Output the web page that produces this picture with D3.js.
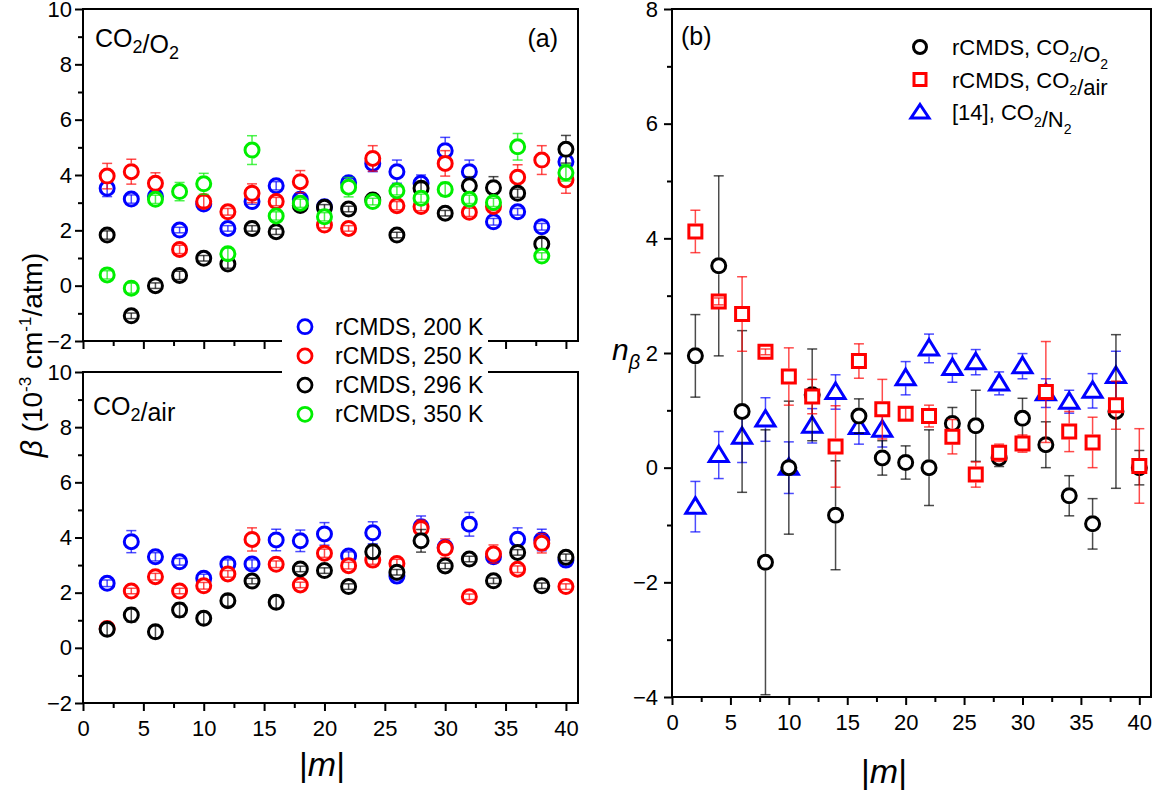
<!DOCTYPE html>
<html>
<head>
<meta charset="utf-8">
<script src="https://cdn.jsdelivr.net/npm/d3@7"></script>
<style>
body { margin: 0; background: #fff; }
svg text { font-family: "Liberation Sans", Arial, sans-serif; fill: #000; }
</style>
</head>
<body>
<svg id="drawing_region" width="1161" height="792"></svg>
<script>
// |m| values
const mValues = [2,4,6,8,10,12,14,16,18,20,22,24,26,28,30,32,34,36,38,40];
const mN2 = [2,4,6,8,10,12,14,16,18,20,22,24,26,28,30,32,34,36,38];

// (a) top panel, CO2/O2, beta in 1e-3 cm-1/atm
const o2_200K     = [3.52,3.13,3.22,2.01,2.95,2.07,3.04,3.61,3.12,2.85,3.72,4.42,4.12,3.70,4.88,4.12,2.31,2.67,2.13,4.48];
const o2_200K_err = [0.30,0.15,0.12,0.10,0.12,0.10,0.10,0.15,0.12,0.10,0.15,0.30,0.42,0.30,0.48,0.42,0.12,0.12,0.12,0.25];
const o2_250K     = [3.96,4.12,3.70,1.31,3.04,2.67,3.34,3.04,3.76,2.19,2.07,4.60,2.89,2.86,4.42,2.65,2.86,3.92,4.54,3.82];
const o2_250K_err = [0.46,0.45,0.38,0.15,0.20,0.12,0.34,0.15,0.40,0.10,0.10,0.46,0.15,0.15,0.46,0.15,0.15,0.45,0.52,0.48];
const o2_296K     = [1.83,-1.09,0.00,0.37,0.99,0.78,2.07,1.95,2.90,2.83,2.77,3.10,1.83,3.52,2.62,3.61,3.54,3.34,1.51,4.93];
const o2_296K_err = [0.15,0.10,0.10,0.15,0.10,0.15,0.10,0.10,0.15,0.10,0.10,0.15,0.10,0.20,0.10,0.33,0.40,0.15,0.20,0.50];
const o2_350K     = [0.39,-0.09,3.12,3.40,3.68,1.15,4.90,2.52,2.98,2.49,3.56,3.04,3.43,3.16,3.48,3.12,3.01,5.02,1.07,4.08];
const o2_350K_err = [0.15,0.18,0.15,0.33,0.38,0.20,0.52,0.15,0.15,0.15,0.35,0.12,0.15,0.15,0.25,0.15,0.15,0.48,0.12,0.30];

// (a) bottom panel, CO2/air
const air_200K     = [2.34,3.85,3.30,3.12,2.52,3.04,3.04,3.91,3.88,4.13,3.33,4.17,2.60,4.39,3.65,4.48,3.30,3.94,3.91,3.18];
const air_200K_err = [0.12,0.40,0.15,0.12,0.15,0.15,0.15,0.39,0.39,0.41,0.15,0.40,0.15,0.39,0.15,0.43,0.15,0.41,0.39,0.15];
const air_250K     = [0.70,2.06,2.58,2.06,2.25,2.68,3.93,3.03,2.28,3.43,2.98,3.18,3.06,4.33,3.61,1.85,3.40,2.85,3.79,2.22];
const air_250K_err = [0.15,0.10,0.12,0.10,0.12,0.12,0.42,0.12,0.10,0.15,0.12,0.15,0.15,0.30,0.34,0.10,0.33,0.12,0.35,0.10];
const air_296K     = [0.67,1.19,0.58,1.37,1.07,1.71,2.42,1.65,2.86,2.80,2.22,3.48,2.74,3.88,2.97,3.22,2.43,3.46,2.25,3.28];
const air_296K_err = [0.22,0.25,0.22,0.25,0.22,0.20,0.10,0.22,0.10,0.10,0.10,0.25,0.10,0.41,0.10,0.10,0.10,0.10,0.10,0.12];

// (b) temperature exponent n_beta
const nO2      = [1.95,3.52,0.98,-1.65,0.00,1.27,-0.83,0.90,0.17,0.09,0.00,0.77,0.73,0.17,0.86,0.40,-0.49,-0.98,0.98,0.00];
const nO2_err  = [0.72,1.57,1.41,2.31,1.16,0.80,0.95,0.30,0.30,0.29,0.66,0.28,0.62,0.15,0.35,0.40,0.35,0.44,1.34,0.30];
const nAir     = [4.12,2.90,2.68,2.02,1.59,1.24,0.37,1.86,1.02,0.94,0.90,0.54,-0.12,0.26,0.42,1.32,0.63,0.44,1.09,0.03];
const nAir_err = [0.37,0.06,0.65,0.05,0.50,0.30,0.71,0.30,0.52,0.10,0.19,0.30,0.22,0.15,0.15,0.88,0.35,0.44,0.42,0.65];
const nN2      = [-0.68,0.22,0.54,0.84,0.00,0.73,1.32,0.71,0.66,1.56,2.08,1.74,1.84,1.47,1.77,1.30,1.15,1.34,1.60];
const nN2_err  = [0.44,0.41,0.45,0.38,0.45,0.30,0.30,0.30,0.30,0.29,0.25,0.25,0.22,0.20,0.22,0.25,0.20,0.30,0.43];

const leftTicks = [-2,0,2,4,6,8,10];
const rightTicks = [-4,-2,0,2,4,6,8];
const xTicks = [0,5,10,15,20,25,30,35,40];

const BLUE = '#0000ff', RED = '#ff0000', BLACK = '#000000', GREEN = '#00ee00';

const svg = d3.select('#drawing_region');

// scales
const xLeft = d3.scaleLinear().domain([0, 41]).range([83, 578]);
const yTop = d3.scaleLinear().domain([-2, 10]).range([341, 9]);
const yBot = d3.scaleLinear().domain([-2, 10]).range([703, 372]);
const xRight = d3.scaleLinear().domain([0, 41]).range([672, 1151]);
const yRight = d3.scaleLinear().domain([-4, 8]).range([697, 9]);

function drawAxes(xs, ys, yTickVals, showXLabels, yPad) {
    const g = svg.append('g');
    const x0 = ys.range()[0];
    const xl = xs.range()[0];
    // minor ticks
    g.append('g').attr('transform', `translate(0,${x0})`)
        .call(d3.axisBottom(xs).tickValues(d3.range(2.5, 41, 5)).tickSize(5).tickFormat(''));
    g.append('g').attr('transform', `translate(0,${x0})`)
        .call(d3.axisBottom(xs).tickValues(xTicks).tickSize(8).tickPadding(9)
            .tickFormat(showXLabels ? d3.format('d') : ''));
    const yd = ys.domain();
    g.append('g').attr('transform', `translate(${xl},0)`)
        .call(d3.axisLeft(ys).tickValues(d3.range(yd[0] + 1, yd[1], 2)).tickSize(5).tickFormat(''));
    g.append('g').attr('transform', `translate(${xl},0)`)
        .call(d3.axisLeft(ys).tickValues(yTickVals).tickSize(8).tickPadding(yPad));
    g.selectAll('.domain').remove();
    g.selectAll('.tick line').attr('stroke', '#000').attr('stroke-width', 2);
    g.selectAll('.tick text').style('font-size', '22px').attr('fill', '#000');
    // frame
    svg.append('rect')
        .attr('x', xs.range()[0]).attr('y', ys.range()[1])
        .attr('width', xs.range()[1] - xs.range()[0])
        .attr('height', ys.range()[0] - ys.range()[1])
        .attr('fill', 'none').attr('stroke', '#000').attr('stroke-width', 2);
}

function markerPath(shape) {
    if (shape === 'square') return 'M-6.5,-6.5H6.5V6.5H-6.5Z';
    if (shape === 'triangle') return 'M0,-9L9.5,6.5H-9.5Z';
    return d3.arc()({innerRadius: 0, outerRadius: 7, startAngle: 0, endAngle: 2 * Math.PI});
}

function drawSeries(xs, ys, xv, yv, ev, color, shape, r) {
    const g = svg.append('g');
    const pts = xv.map((m, i) => ({m: m, v: yv[i], e: ev[i]}));
    // marker (white fill)
    g.selectAll('path.mk').data(pts).enter().append('path')
        .attr('class', 'mk')
        .attr('transform', d => `translate(${xs(d.m)},${ys(d.v)})`)
        .attr('d', markerPath(shape))
        .attr('fill', '#fff').attr('stroke', color).attr('stroke-width', 3);
    // error bars, drawn outside the symbol
    const eg = g.append('g').attr('stroke', color).attr('stroke-width', 1.5).attr('stroke-opacity', 0.7);
    pts.forEach(d => {
        const cx = xs(d.m), cy = ys(d.v);
        const t = ys(d.v + d.e), b = ys(d.v - d.e);
        if (cy - t > r) {
            eg.append('line').attr('x1', cx).attr('x2', cx).attr('y1', t).attr('y2', cy - r);
            eg.append('line').attr('x1', cx).attr('x2', cx).attr('y1', cy + r).attr('y2', b);
        } else {
            eg.append('line').attr('x1', cx).attr('x2', cx).attr('y1', t).attr('y2', b);
        }
        eg.append('line').attr('x1', cx - 5).attr('x2', cx + 5).attr('y1', t).attr('y2', t);
        eg.append('line').attr('x1', cx - 5).attr('x2', cx + 5).attr('y1', b).attr('y2', b);
    });
}

// subscript helper
function richText(sel, parts, size, subSize, shift) {
    parts.forEach(p => {
        if (p.sub) {
            sel.append('tspan').text(p.t).style('font-size', subSize + 'px').attr('dy', shift);
            sel.append('tspan').text('').attr('dy', -shift);
        } else {
            sel.append('tspan').text(p.t).style('font-size', size + 'px')
                .style('font-style', p.it ? 'italic' : null);
        }
    });
}

// ---- panel (a) top
drawAxes(xLeft, yTop, leftTicks, false, 3);
drawSeries(xLeft, yTop, mValues, o2_200K, o2_200K_err, BLUE, 'circle', 8.5);
drawSeries(xLeft, yTop, mValues, o2_250K, o2_250K_err, RED, 'circle', 8.5);
drawSeries(xLeft, yTop, mValues, o2_296K, o2_296K_err, BLACK, 'circle', 8.5);
drawSeries(xLeft, yTop, mValues, o2_350K, o2_350K_err, GREEN, 'circle', 8.5);

// ---- panel (a) bottom
drawAxes(xLeft, yBot, leftTicks, true, 3);
drawSeries(xLeft, yBot, mValues, air_200K, air_200K_err, BLUE, 'circle', 8.5);
drawSeries(xLeft, yBot, mValues, air_250K, air_250K_err, RED, 'circle', 8.5);
drawSeries(xLeft, yBot, mValues, air_296K, air_296K_err, BLACK, 'circle', 8.5);

// ---- panel (b)
drawAxes(xRight, yRight, rightTicks, true, 6);
drawSeries(xRight, yRight, mN2, nN2, nN2_err, BLUE, 'triangle', 8);
drawSeries(xRight, yRight, mValues, nO2, nO2_err, BLACK, 'circle', 8.5);
drawSeries(xRight, yRight, mValues, nAir, nAir_err, RED, 'square', 8);

// ---- annotations
richText(svg.append('text').attr('x', 95).attr('y', 47),
    [{t: 'CO'}, {t: '2', sub: true}, {t: '/O'}, {t: '2', sub: true}], 25, 18, 6);
richText(svg.append('text').attr('x', 93).attr('y', 415),
    [{t: 'CO'}, {t: '2', sub: true}, {t: '/air'}], 25, 18, 6);
svg.append('text').attr('x', 558).attr('y', 47).attr('text-anchor', 'end')
    .style('font-size', '25px').text('(a)');
svg.append('text').attr('x', 681).attr('y', 45)
    .style('font-size', '25px').text('(b)');

// ---- legend (a)
const legA = [
    {label: 'rCMDS, 200 K', color: BLUE},
    {label: 'rCMDS, 250 K', color: RED},
    {label: 'rCMDS, 296 K', color: BLACK},
    {label: 'rCMDS, 350 K', color: GREEN}
];
svg.append('rect').attr('x', 282).attr('y', 311).attr('width', 206).attr('height', 118).attr('fill', '#fff');
legA.forEach((d, i) => {
    const ly = 326.7 + i * 29.2;
    svg.append('circle').attr('cx', 305).attr('cy', ly).attr('r', 7)
        .attr('fill', '#fff').attr('stroke', d.color).attr('stroke-width', 2.8);
    svg.append('text').attr('x', 335).attr('y', ly + 8).style('font-size', '23px').text(d.label);
});

// ---- legend (b)
const legB = [
    {parts: [{t: 'rCMDS, CO'}, {t: '2', sub: true}, {t: '/O'}, {t: '2', sub: true}], color: BLACK, shape: 'circle'},
    {parts: [{t: 'rCMDS, CO'}, {t: '2', sub: true}, {t: '/air'}], color: RED, shape: 'square'},
    {parts: [{t: '[14], CO'}, {t: '2', sub: true}, {t: '/N'}, {t: '2', sub: true}], color: BLUE, shape: 'triangle'}
];
legB.forEach((d, i) => {
    const ly = 47 + i * 32.5;
    svg.append('path').attr('transform', `translate(920,${ly})`)
        .attr('d', d.shape === 'circle'
            ? d3.arc()({innerRadius: 0, outerRadius: 6.5, startAngle: 0, endAngle: 2 * Math.PI})
            : d.shape === 'square' ? 'M-6,-6H6V6H-6Z' : 'M0,-7.5L9,6H-9Z')
        .attr('fill', '#fff').attr('stroke', d.color).attr('stroke-width', 3);
    richText(svg.append('text').attr('x', 952).attr('y', ly + 8), d.parts, 22, 14, 7);
});

// ---- axis titles
const yt = svg.append('text')
    .attr('transform', 'translate(42,355) rotate(-90)')
    .attr('text-anchor', 'middle');
yt.append('tspan').text('β').style('font-style', 'italic').style('font-size', '30px');
yt.append('tspan').text(' (10').style('font-size', '28px');
yt.append('tspan').text('-3').style('font-size', '17px').attr('dy', -11);
yt.append('tspan').text(' cm').style('font-size', '28px').attr('dy', 11);
yt.append('tspan').text('-1').style('font-size', '17px').attr('dy', -11);
yt.append('tspan').text('/atm)').style('font-size', '28px').attr('dy', 11);

const nt = svg.append('text').attr('x', 612).attr('y', 360);
nt.append('tspan').text('n').style('font-style', 'italic').style('font-size', '30px');
nt.append('tspan').text('β').style('font-style', 'italic').style('font-size', '20px').attr('dy', 9);

[[322, 776], [884, 783]].forEach(p => {
    const t = svg.append('text').attr('x', p[0]).attr('y', p[1]).attr('text-anchor', 'middle')
        .style('font-size', '34px');
    t.append('tspan').text('|');
    t.append('tspan').text('m').style('font-style', 'italic');
    t.append('tspan').text('|');
});
</script>
</body>
</html>
